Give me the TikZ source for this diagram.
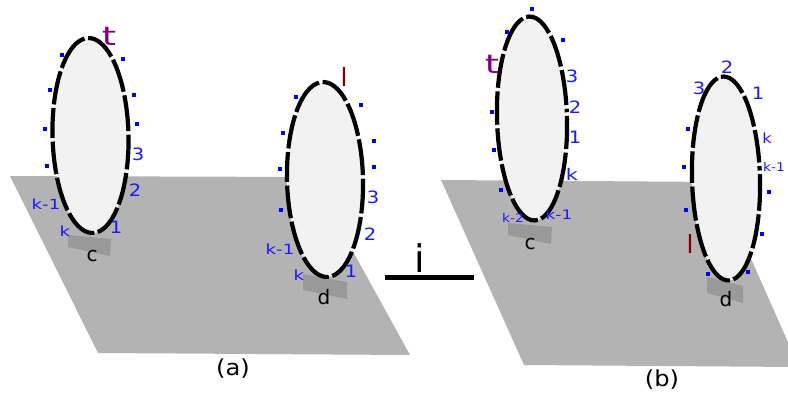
\documentclass[tikz,border=0pt]{standalone}
\usepackage{fontspec}
\setmainfont{DejaVu Sans}
\definecolor{plane}{HTML}{B3B3B3}
\definecolor{patch}{HTML}{999999}
\definecolor{ringfill}{HTML}{F2F2F2}
\definecolor{lab}{HTML}{1A1AFF}
\definecolor{tcol}{HTML}{800080}
\definecolor{lcol}{HTML}{800000}
\newcommand{\ringshape}[6]{%
  % cx, cy(px down), rx, ry, rotation, gap angle list
  \begin{scope}[shift={(#1,-#2)},rotate=#5]
    \fill[ringfill] (0,0) ellipse[x radius=#3,y radius=#4];
    \foreach \a/\b in #6 {
      \pgfmathsetmacro{\ga}{deg(1.8/sqrt((#3*sin(\a))^2+(#4*cos(\a))^2))}
      \pgfmathsetmacro{\gb}{deg(1.8/sqrt((#3*sin(\b))^2+(#4*cos(\b))^2))}
      \pgfmathsetmacro{\sa}{\a+\ga}
      \pgfmathsetmacro{\sb}{\b-\gb}
      \draw[ringline] ({#3*cos(\sa)},{#4*sin(\sa)}) arc[start angle=\sa,end angle=\sb,x radius=#3,y radius=#4];
    }
  \end{scope}}
\newcommand{\dotsat}[1]{\foreach \x/\y in {#1}{\fill[blue] (\x-2,-\y-2) rectangle ++(4,4);}}
\tikzset{
  x=1pt,y=1pt,
  ringline/.style={black,line width=4.2pt},
  planeshape/.style={fill=plane,draw=none},
  patchshape/.style={fill=patch,draw=none},
  lb/.style={inner sep=0pt,text=lab,font=\fontsize{#1}{#1}\selectfont,xscale=1.15},
  smalllb/.style={inner sep=0pt,text=lab,font=\fontsize{#1}{#1}\selectfont,xscale=1.3},
  blk/.style={inner sep=0pt,text=black,font=\fontsize{#1}{#1}\selectfont},
}
\begin{document}
\begin{tikzpicture}
\useasboundingbox (0,0) rectangle (788,-394);
\begin{scope}
\clip (0,0) rectangle (788,-394);
\fill[planeshape] (10,-176) -- (312,-177) -- (410,-355) -- (98,-353) -- cycle;
\fill[planeshape] (441,-180) -- (717,-182) -- (799,-367) -- (524,-365) -- cycle;
\end{scope}
\fill[patchshape] (68,-235) -- (111,-239) -- (110,-256) -- (68,-247) -- cycle;
\fill[patchshape] (303,-274) -- (347,-282) -- (347,-299) -- (303,-290) -- cycle;
\fill[patchshape] (508,-223) -- (552,-227) -- (551,-244) -- (508,-235) -- cycle;
\fill[patchshape] (707,-277) -- (743,-286) -- (743,-303) -- (707,-293) -- cycle;
\def\gapsA{-85/-47,-47/-22,-22/1,1/25,25/52,52/93,93/137,137/162,162/182,182/204,204/231,231/275}
\ringshape{90.5}{135.5}{38}{97.5}{1.3}{\gapsA}
\ringshape{325}{179.5}{38}{97.5}{1.3}{\gapsA}
\def\gapsB{-82/-44,-44/-19,-19/2,2/6,6/29,29/55,55/98,98/139,139/163,163/184,184/205,205/230,230/278}
\ringshape{532}{118.5}{35}{102}{1.5}{\gapsB}
\def\gapsC{-85/-45,-45/-20,-20/3,3/7.5,7.5/29,29/55,55/97,97/140,140/163,163/183,183/205,205/231,231/275}
\ringshape{726}{178.5}{34}{102}{1.5}{\gapsC}
\dotsat{62/55,50/90,45/129,47/166,123/59,134/95,137/124}
\dotsat{296/97,283/133,280/169,281/210,361/105,374/141,374/167}
\dotsat{532/9,507/32,563/40,492/112,494/150,501/190}
\dotsat{688/129,684/167,686/210,708/274,769/192,762/234,748/272}
% left figure
\node[blk=26,text=tcol,xscale=1.4] (t1) at (109,-36) {t};
\node[lb=17] (a3) at (138,-154) {3};
\node[lb=17] (a2) at (135,-190) {2};
\node[lb=17] (a1) at (116,-227) {1};
\node[smalllb=14] (ak1) at (46,-204) {k-1};
\node[smalllb=14] (ak) at (65,-231) {k};
\node[blk=20] (c1) at (92,-256) {c};
\node[blk=25,text=lcol] (l1) at (344,-77) {l};
\node[lb=17] (b3) at (373,-197) {3};
\node[lb=17] (b2) at (370,-234) {2};
\node[lb=17] (b1) at (351,-271) {1};
\node[smalllb=14] (bk1) at (280,-249) {k-1};
\node[smalllb=14] (bk) at (299,-275) {k};
\node[blk=20] (d1) at (324,-297) {d};
% middle mark
\coordinate (ms) at (385,-277);
\coordinate (me) at (474,-277);
\draw[black,line width=5pt] (ms) -- (me);
\node[blk=38] (imark) at (420,-258) {i};
\node[blk=22,xscale=1.1] (capa) at (233,-369) {(a)};
% right figure
\node[blk=26,text=tcol,xscale=1.4] (t2) at (492,-64) {t};
\node[lb=17] (c3) at (572,-76) {3};
\node[lb=17] (c2) at (575,-107) {2};
\node[lb=17] (c1n) at (575,-137) {1};
\node[smalllb=16] (ck) at (572,-174) {k};
\node[smalllb=13] (ck1) at (559,-215) {k-1};
\node[lb=12] (ck2) at (513,-218) {k-2};
\node[blk=20] (c2n) at (530,-244) {c};
\node[lb=17] (e2) at (727,-67) {2};
\node[lb=17] (e3) at (699,-88) {3};
\node[lb=17] (e1) at (758,-93) {1};
\node[lb=14] (ek) at (767,-138) {k};
\node[lb=12] (ek1) at (774,-167) {k-1};
\node[blk=25,text=lcol] (l2) at (690,-244) {l};
\node[blk=20] (d2) at (726,-299) {d};
\node[blk=22,xscale=1.1] (capb) at (662,-380) {(b)};
\end{tikzpicture}
\end{document}
